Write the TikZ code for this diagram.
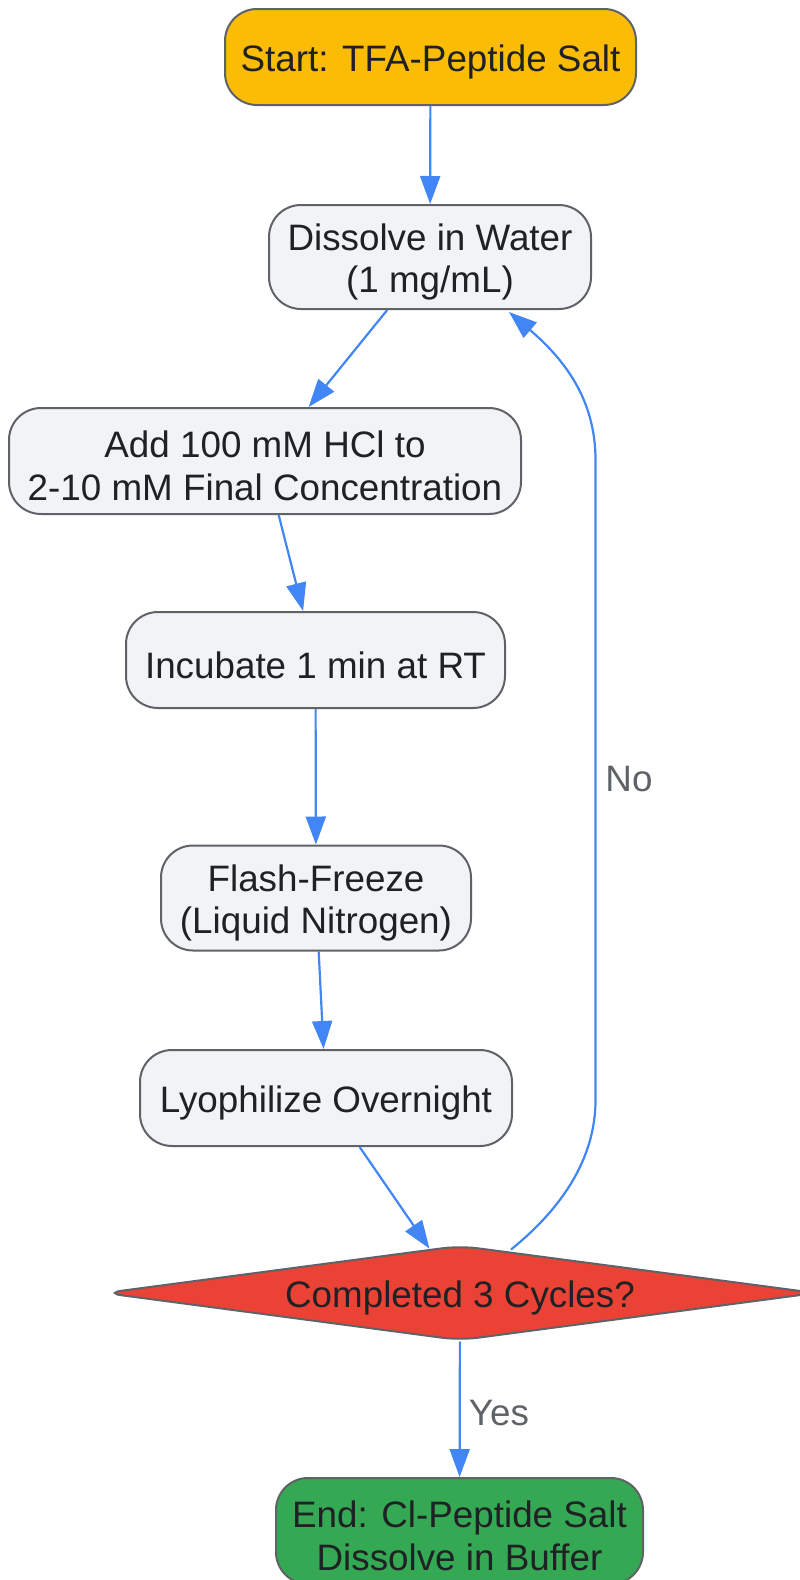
\documentclass[tikz,border=0pt]{standalone}
\usepackage{fontspec}
\setmainfont{Liberation Sans}
\usetikzlibrary{shapes.geometric,arrows.meta,calc}
\definecolor{cstart}{HTML}{FBBC05}
\definecolor{cproc}{HTML}{F1F3F4}
\definecolor{cdec}{HTML}{EA4335}
\definecolor{cend}{HTML}{34A853}
\definecolor{cedge}{HTML}{4285F4}
\definecolor{cborder}{HTML}{5F6368}
\definecolor{ctext}{HTML}{202124}
\tikzset{
  box/.style={draw=cborder, line width=2pt, rounded corners=32pt, inner sep=0pt, fill=cproc},
  txt/.style={inner sep=0pt, align=center, text=ctext, font=\fontsize{36.8}{42.5}\selectfont},
  flow/.style={draw=cedge, line width=2.2pt, -{Triangle[length=28pt,width=20pt]}},
  lbl/.style={text=cborder, font=\fontsize{36.8}{42.5}\selectfont, inner sep=0pt}
}
\begin{document}
\begin{tikzpicture}[x=1pt,y=-1pt]
\useasboundingbox (0,0) rectangle (800,1580);
\node[box, fill=cstart, minimum width=411pt, minimum height=96pt] (start) at (430.5,57) {};
\node[txt] (startT) at ($(start)+(0,5)$) {Start: TFA-Peptide Salt};
\node[box, minimum width=322pt, minimum height=104pt] (dis) at (430,257) {};
\node[txt] (disT) at ($(dis)+(0,5)$) {Dissolve in Water\\(1 mg/mL)};
\node[box, minimum width=512pt, minimum height=106pt] (add) at (265,461) {};
\node[txt] (addT) at ($(add)+(0,5)$) {Add 100 mM HCl to\\2-10 mM Final Concentration};
\node[box, minimum width=379pt, minimum height=96pt] (inc) at (315.5,660) {};
\node[txt] (incT) at ($(inc)+(0,5)$) {Incubate 1 min at RT};
\node[box, minimum width=310pt, minimum height=105pt] (fla) at (316,898) {};
\node[txt] (flaT) at ($(fla)+(0,5)$) {Flash-Freeze\\(Liquid Nitrogen)};
\node[box, minimum width=372pt, minimum height=96pt] (lyo) at (326,1098) {};
\node[txt] (lyoT) at ($(lyo)+(0,5)$) {Lyophilize Overnight};
\node[draw=cborder, line width=2pt, fill=cdec, shape=diamond, inner sep=0pt,
  minimum width=712pt, minimum height=95pt, rounded corners=18pt] (dia) at (460,1293) {};
\node[txt] (diaT) at ($(dia)+(0,5)$) {Completed 3 Cycles?};
\node[box, fill=cend, minimum width=367pt, minimum height=106pt] (end) at (459.5,1531) {};
\node[txt] (endT) at ($(end)+(0,5)$) {End: Cl-Peptide Salt\\Dissolve in Buffer};

\draw[flow] (start) -- (dis);
\draw[flow] (dis) -- (add);
\draw[flow] (add) -- (inc);
\draw[flow] (inc) -- (fla);
\draw[flow] (fla) -- (lyo);
\draw[flow] (lyo) -- (dia);
\draw[flow] (dia) -- (end);
\coordinate (noS) at ($(dia.north)+(51,5)$);
\coordinate (noE) at ($(dis.south)+(79,2)$);
\draw[flow] (noS) .. controls (560,1210) and (595.5,1160) .. (595.5,1100) -- (595.5,460)
  .. controls (595.5,400) and (565,360) .. (noE);
\node[lbl] (no) at (629,779) {No};
\node[lbl] (yes) at (499,1413) {Yes};
\end{tikzpicture}
\end{document}
